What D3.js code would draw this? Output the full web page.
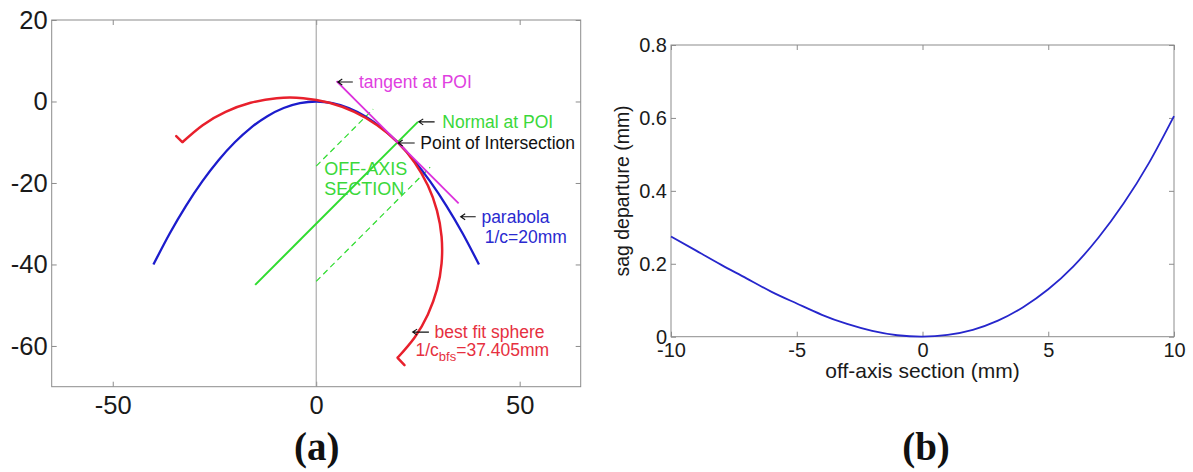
<!DOCTYPE html>
<html>
<head>
<meta charset="utf-8">
<script src="https://cdn.jsdelivr.net/npm/d3@7"></script>
<style>
  body { margin: 0; background: #fff; }
  svg { display: block; }
  text { font-family: "Liberation Sans", Arial, sans-serif; }
</style>
</head>
<body>
<svg id="fig" width="1193" height="472"></svg>
<script>
// ---------- (a) geometry of the off-axis section ----------
// parabola with 1/c = 20 mm
const parabolaX = [-40, -36, -32, -28, -24, -20, -16, -12, -8, -4, 0, 4, 8, 12, 16, 20, 24, 28, 32, 36, 40];
const parabolaZ = [-40, -32.4, -25.6, -19.6, -14.4, -10, -6.4, -3.6, -1.6, -0.4, 0, -0.4, -1.6, -3.6, -6.4, -10, -14.4, -19.6, -25.6, -32.4, -40];

// best fit sphere (1/c_bfs = 37.405 mm), half circle around the point of intersection
const sphereX = [-32.90, -27.90, -22.26, -16.13, -9.71, -3.19, 3.23, 9.36, 15.00, 20.00, 24.19, 27.45, 29.68, 30.81, 30.81, 29.68, 27.45, 24.19, 20.00];
const sphereZ = [-10.00, -5.81, -2.55, -0.32, 0.81, 0.81, -0.32, -2.55, -5.81, -10.00, -15.00, -20.64, -26.77, -33.19, -39.71, -46.13, -52.26, -57.90, -62.90];
// short spikes at both ends of the sphere trace
const sphereStartSpike = [[-32.90, -10.00], [-34.4, -8.5]];
const sphereEndSpike = [[20.00, -62.90], [21.7, -64.7]];

// tangent and normal at the point of intersection (20, -10)
const tangentLine = [[5, 5], [35, -25]];
const normalLine = [[-15, -45], [25, -5]];
// limits of the off-axis section (dashed)
const sectionUpper = [[0, -15.86], [14, -1.86]];
const sectionLower = [[0, -44.14], [28, -16.14]];

const aXTicks = [-50, 0, 50];
const aYTicks = [-60, -40, -20, 0, 20];

// ---------- (b) sag departure across the section ----------
const sectionX = [-10, -9, -8, -7, -6, -5, -4, -3, -2, -1, 0, 1, 2, 3, 4, 5, 6, 7, 8, 9, 10];
const sagDeparture = [0.275, 0.236, 0.197, 0.160, 0.123, 0.091, 0.060, 0.035, 0.016, 0.004, 0.000,
                      0.005, 0.019, 0.044, 0.081, 0.130, 0.193, 0.272, 0.366, 0.476, 0.605];
const bXTicks = [-10, -5, 0, 5, 10];
const bYTicks = [0, 0.2, 0.4, 0.6, 0.8];

// ---------- drawing ----------
const svg = d3.select("#fig");
const AXIS = "#8c8c8c", LABEL = "#1a1a1a";
const RED = "#e8202c", BLUE = "#1c1ccc", GREEN = "#2fdc2f", MAGENTA = "#dc30dc";
// plain hyphen-minus tick labels
const plain = d => String(d);

function drawFrame(x, y, xTicks, yTicks, fmt, fontSize, xPad, yPad) {
  const g = svg.append("g");
  const [x0, x1] = x.range(), [y0, y1] = y.range();
  const style = sel => {
    sel.select(".domain").remove();
    sel.selectAll(".tick line").attr("stroke", AXIS);
    sel.selectAll(".tick text").attr("fill", LABEL).style("font-size", fontSize + "px");
  };
  g.append("g").attr("transform", `translate(0,${y0})`)
    .call(d3.axisBottom(x).tickValues(xTicks).tickSize(-5).tickPadding(xPad).tickFormat(fmt)).call(style);
  g.append("g").attr("transform", `translate(0,${y1})`)
    .call(d3.axisTop(x).tickValues(xTicks).tickSize(-5).tickFormat("")).call(style);
  g.append("g").attr("transform", `translate(${x0},0)`)
    .call(d3.axisLeft(y).tickValues(yTicks).tickSize(-5).tickPadding(yPad).tickFormat(fmt)).call(style);
  g.append("g").attr("transform", `translate(${x1},0)`)
    .call(d3.axisRight(y).tickValues(yTicks).tickSize(-5).tickFormat("")).call(style);
  g.append("rect").attr("x", x0).attr("y", y1).attr("width", x1 - x0).attr("height", y0 - y1)
    .attr("fill", "none").attr("stroke", AXIS).attr("stroke-width", 1);
  return g;
}

// ----- panel (a) -----
const xa = d3.scaleLinear().domain([-65, 65]).range([51.7, 580.7]);
const ya = d3.scaleLinear().domain([-70, 20]).range([386.7, 20]);
drawFrame(xa, ya, aXTicks, aYTicks, plain, 25.5, 9, 4);
const ga = svg.append("g");

// optical axis
ga.append("line").attr("x1", xa(0)).attr("x2", xa(0)).attr("y1", ya(20)).attr("y2", ya(-70))
  .attr("stroke", "#9a9a9a").attr("stroke-width", 1);

const lineA = d3.line().x(d => xa(d[0])).y(d => ya(d[1]));
const smoothA = d3.line().x(d => xa(d[0])).y(d => ya(d[1])).curve(d3.curveNatural);

// section limits
[sectionUpper, sectionLower].forEach(seg => {
  ga.append("path").attr("d", lineA(seg)).attr("fill", "none")
    .attr("stroke", GREEN).attr("stroke-width", 1.2).attr("stroke-dasharray", "6,4");
});
// normal
ga.append("path").attr("d", lineA(normalLine)).attr("fill", "none")
  .attr("stroke", GREEN).attr("stroke-width", 2);
// parabola
ga.append("path").attr("d", smoothA(parabolaX.map((v, i) => [v, parabolaZ[i]])))
  .attr("fill", "none").attr("stroke", BLUE).attr("stroke-width", 2.3);
// sphere
ga.append("path").attr("d", smoothA(sphereX.map((v, i) => [v, sphereZ[i]])))
  .attr("fill", "none").attr("stroke", RED).attr("stroke-width", 2.5);
[sphereStartSpike, sphereEndSpike].forEach(seg => {
  ga.append("path").attr("d", lineA(seg)).attr("fill", "none")
    .attr("stroke", RED).attr("stroke-width", 2.5).attr("stroke-linecap", "round");
});
// tangent
ga.append("path").attr("d", lineA(tangentLine)).attr("fill", "none")
  .attr("stroke", MAGENTA).attr("stroke-width", 1.8);

// annotations: arrow head / tail x and text start, all in data units
function arrow(headX, tailX, yv) {
  const hx = xa(headX), tx = xa(tailX), py = ya(yv);
  ga.append("path")
    .attr("d", `M${tx},${py}L${hx},${py}M${hx + 4.5},${py - 3}L${hx},${py}L${hx + 4.5},${py + 3}`)
    .attr("fill", "none").attr("stroke", "#111").attr("stroke-width", 1.1);
}
function note(txt, xv, yv, color, size) {
  return ga.append("text").attr("x", xa(xv)).attr("y", ya(yv)).attr("dy", "0.35em")
    .attr("fill", color).style("font-size", (size || 17.5) + "px").text(txt);
}
arrow(5.3, 9.0, 4.8);   note("tangent at POI", 10.5, 4.9, "#e040e0");
arrow(25.2, 29.1, -5.0); note("Normal at POI", 31.0, -5.0, "#3ad83a");
arrow(20.15, 24.2, -10.2); note("Point of Intersection", 25.6, -10.1, "#111");
arrow(35.5, 39.2, -28.3); note("parabola", 40.6, -28.3, "#2a2ad0");
note("1/c=20mm", 41.4, -33.2, "#2a2ad0");
note("OFF-AXIS", 2.0, -16.4, "#3ad83a", 18);
note("SECTION", 2.0, -21.3, "#3ad83a", 18);
arrow(23.7, 27.7, -56.6); note("best fit sphere", 29.1, -56.5, "#e63040");
const bfs = note("", 24.4, -61.0, "#e63040");
bfs.append("tspan").text("1/c");
bfs.append("tspan").attr("dy", "5").style("font-size", "13px").text("bfs");
bfs.append("tspan").attr("dy", "-5").text("=37.405mm");

svg.append("text").attr("x", 316.7).attr("y", 460).attr("text-anchor", "middle")
  .style("font-family", "'Liberation Serif', 'Times New Roman', serif")
  .style("font-weight", "bold").style("font-size", "39px").attr("fill", "#111").text("(a)");

// ----- panel (b) -----
const xb = d3.scaleLinear().domain([-10, 10]).range([671, 1174]);
const yb = d3.scaleLinear().domain([0, 0.8]).range([336.7, 45]);
drawFrame(xb, yb, bXTicks, bYTicks, plain, 20, 6, 4);

svg.append("path")
  .attr("d", d3.line().x(d => xb(d[0])).y(d => yb(d[1])).curve(d3.curveNatural)(sectionX.map((v, i) => [v, sagDeparture[i]])))
  .attr("fill", "none").attr("stroke", "#2626cc").attr("stroke-width", 1.8);

svg.append("text").attr("x", 922.5).attr("y", 378).attr("text-anchor", "middle")
  .style("font-size", "21px").attr("fill", LABEL).text("off-axis section (mm)");
svg.append("text").attr("transform", "translate(629,191) rotate(-90)").attr("text-anchor", "middle")
  .style("font-size", "19.5px").attr("fill", LABEL).text("sag departure (mm)");

svg.append("text").attr("x", 926).attr("y", 460).attr("text-anchor", "middle")
  .style("font-family", "'Liberation Serif', 'Times New Roman', serif")
  .style("font-weight", "bold").style("font-size", "39px").attr("fill", "#111").text("(b)");
</script>
</body>
</html>
